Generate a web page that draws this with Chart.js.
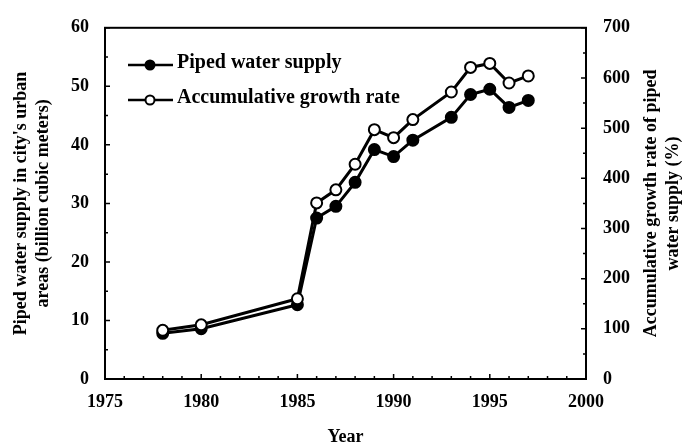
<!DOCTYPE html>
<html>
<head>
<meta charset="utf-8">
<title>Piped water supply</title>
<script src="https://cdn.jsdelivr.net/npm/chart.js@4/dist/chart.umd.min.js"></script>
<style>
    html, body { margin: 0; padding: 0; background: #fff; }
    #chart { display: block; }
</style>
</head>
<body>
<canvas id="chart" width="683" height="446"></canvas>
<script>
// Chart data
const years = [1978, 1980, 1985, 1986, 1987, 1988, 1989, 1990, 1991, 1993, 1994, 1995, 1996, 1997];
const pipedSupply = [7.8, 8.6, 12.7, 27.5, 29.5, 33.6, 39.2, 38.0, 40.8, 44.7, 48.6, 49.5, 46.4, 47.6];
const growthRate = [97, 108, 160, 351, 377, 428, 497, 481, 517, 572, 621, 629, 590, 604];

// Axis ticks and texts
const xTicks = [1975, 1980, 1985, 1990, 1995, 2000];
const leftTicks = [0, 10, 20, 30, 40, 50, 60];
const rightTicks = [0, 100, 200, 300, 400, 500, 600, 700];
const seriesNames = ["Piped water supply", "Accumulative growth rate"];
const leftTitle = ["Piped water supply in city's urban", "areas (billion cubic meters)"];
const rightTitle = ["Accumulative growth rate of piped", "water supply (%)"];
const xTitle = "Year";

const FONT = "'Liberation Serif', 'Times New Roman', serif";

// Frame, inward tick marks, right title and legend
const decorPlugin = {
    id: 'decor',
    afterDatasetsDraw(chart) {
        const { ctx, chartArea: a, scales } = chart;
        ctx.save();
        ctx.strokeStyle = '#000';

        // minor / major ticks pointing inward
        ctx.lineWidth = 1.5;
        ctx.beginPath();
        for (let v = 1975; v <= 2000; v++) {
            const x = scales.x.getPixelForValue(v);
            const len = v % 5 === 0 ? 5 : 3;
            ctx.moveTo(x, a.bottom);
            ctx.lineTo(x, a.bottom - len);
        }
        for (let v = 0; v <= 60; v += 5) {
            const y = scales.y.getPixelForValue(v);
            const len = v % 10 === 0 ? 5 : 3;
            ctx.moveTo(a.left, y);
            ctx.lineTo(a.left + len, y);
        }
        for (let v = 0; v <= 700; v += 50) {
            const y = scales.y1.getPixelForValue(v);
            const len = v % 100 === 0 ? 5 : 3;
            ctx.moveTo(a.right, y);
            ctx.lineTo(a.right - len, y);
        }
        ctx.stroke();

        // frame
        ctx.lineWidth = 2;
        ctx.strokeRect(a.left, a.top, a.right - a.left, a.bottom - a.top);

        // right axis title, reads bottom to top like the left one
        ctx.fillStyle = '#000';
        ctx.font = "bold 18px " + FONT;
        ctx.textAlign = 'center';
        ctx.textBaseline = 'middle';
        ctx.translate(661, (a.top + a.bottom) / 2);
        ctx.rotate(-Math.PI / 2);
        ctx.fillText(rightTitle[0], 0, -10);
        ctx.fillText(rightTitle[1], 0, 12);
        ctx.restore();

        // legend inside the plot
        ctx.save();
        chart.data.datasets.forEach((ds, i) => {
            const y = 65 + i * 35;
            ctx.strokeStyle = '#000';
            ctx.lineWidth = 2.5;
            ctx.beginPath();
            ctx.moveTo(128, y);
            ctx.lineTo(173, y);
            ctx.stroke();
            ctx.lineWidth = 2;
            ctx.beginPath();
            ctx.arc(150, y, 4.5, 0, Math.PI * 2);
            ctx.fillStyle = ds.pointBackgroundColor;
            ctx.fill();
            ctx.stroke();
            ctx.fillStyle = '#000';
            ctx.font = "bold 20px " + FONT;
            ctx.textAlign = 'left';
            ctx.textBaseline = 'alphabetic';
            ctx.fillText(seriesNames[i], 177, y + 3);
        });
        ctx.restore();
    }
};

function setTicks(list) {
    return scale => { scale.ticks = list.map(v => ({ value: v })); };
}

const tickFont = { family: FONT, size: 18, weight: 'bold' };

const chart = new Chart(document.getElementById('chart'), {
    type: 'line',
    data: {
        datasets: [
            {
                label: seriesNames[0],
                data: years.map((yr, i) => ({ x: yr, y: pipedSupply[i] })),
                yAxisID: 'y',
                borderColor: '#000',
                borderWidth: 3,
                pointRadius: 5.5,
                pointBorderWidth: 2,
                pointBackgroundColor: '#000',
                pointBorderColor: '#000',
                tension: 0,
                order: 1
            },
            {
                label: seriesNames[1],
                data: years.map((yr, i) => ({ x: yr, y: growthRate[i] })),
                yAxisID: 'y1',
                borderColor: '#000',
                borderWidth: 3,
                pointRadius: 5.5,
                pointBorderWidth: 2,
                pointBackgroundColor: '#fff',
                pointBorderColor: '#000',
                tension: 0,
                order: 0
            }
        ]
    },
    options: {
        responsive: false,
        animation: false,
        devicePixelRatio: 1,
        layout: { padding: { top: 24, left: 0, right: 0, bottom: 0 } },
        plugins: {
            legend: { display: false },
            tooltip: { enabled: false }
        },
        scales: {
            x: {
                type: 'linear',
                min: 1975,
                max: 2000,
                afterBuildTicks: setTicks(xTicks),
                afterFit: s => { s.height = 67; },
                grid: { display: false, drawTicks: false },
                border: { display: false },
                ticks: { color: '#000', font: tickFont, padding: 13, maxRotation: 0, callback: v => String(v) },
                title: {
                    display: true,
                    text: xTitle,
                    color: '#000',
                    font: { family: FONT, size: 18, weight: 'bold', lineHeight: 1.0 },
                    padding: { top: 0, bottom: 0 }
                }
            },
            y: {
                type: 'linear',
                position: 'left',
                min: 0,
                max: 60,
                afterBuildTicks: setTicks(leftTicks),
                afterFit: s => { s.width = 105; },
                grid: { display: false, drawTicks: false },
                border: { display: false },
                ticks: { color: '#000', font: tickFont, padding: 16 },
                title: {
                    display: true,
                    text: leftTitle,
                    color: '#000',
                    font: { family: FONT, size: 18, weight: 'bold', lineHeight: 1.25 },
                    padding: { top: 10, bottom: 0 }
                }
            },
            y1: {
                type: 'linear',
                position: 'right',
                min: 0,
                max: 700,
                afterBuildTicks: setTicks(rightTicks),
                afterFit: s => { s.width = 97; },
                grid: { display: false, drawTicks: false },
                border: { display: false },
                ticks: { color: '#000', font: tickFont, padding: 17 }
            }
        }
    },
    plugins: [decorPlugin]
});
</script>
</body>
</html>
